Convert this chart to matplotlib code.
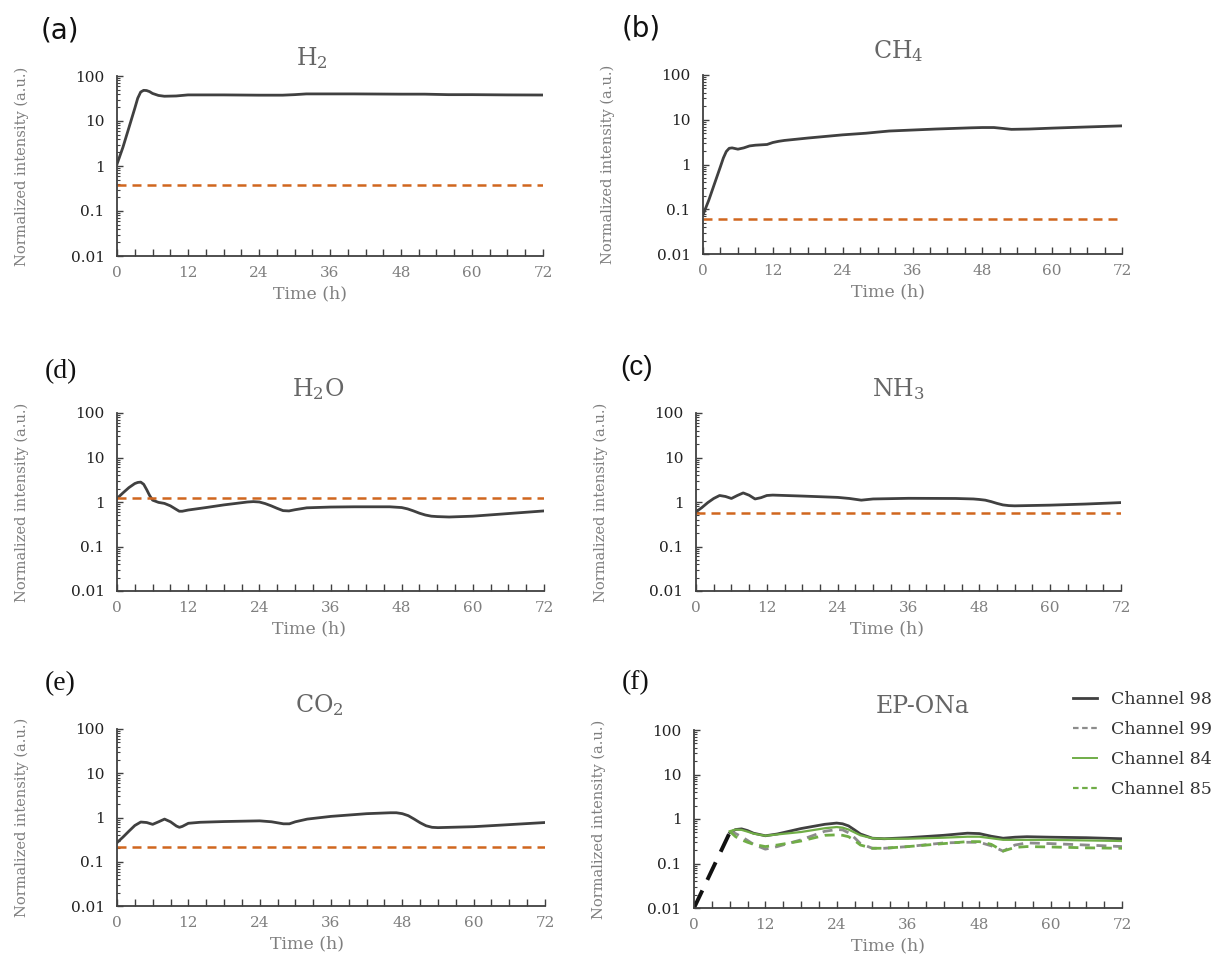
import matplotlib
matplotlib.use("Agg")
import matplotlib.pyplot as plt
from matplotlib.ticker import MultipleLocator, LogLocator, FixedLocator, NullFormatter
from matplotlib.lines import Line2D

plt.rcParams['font.family'] = ['DejaVu Serif']
plt.rcParams['mathtext.fontset'] = 'dejavuserif'

# ---------------- data ----------------
h2_t = [0, 1, 2, 3, 3.5, 4, 4.5, 5, 5.5, 6, 7, 8, 10, 12, 18, 24, 28, 30, 32, 40, 48, 52, 56, 60, 66, 72]
h2_v = [1.1, 2.6, 7.0, 19, 32, 44, 48, 47.5, 45, 41, 37, 35.5, 36, 38, 38, 37.5, 37.5, 38.5, 40, 40, 39.5, 39.5, 38.5, 38.5, 38, 37.8]
h2_ref = 0.38

ch4_t = [0, 1, 2, 3, 3.5, 4, 4.5, 5, 6, 7, 8, 9, 10, 11, 12, 13, 14, 18, 24, 28, 30, 32, 40, 46, 48, 50, 52, 53, 56, 60, 66, 72]
ch4_v = [0.075, 0.16, 0.38, 0.9, 1.4, 1.95, 2.3, 2.35, 2.2, 2.35, 2.6, 2.7, 2.75, 2.8, 3.1, 3.3, 3.45, 3.9, 4.6, 5.0, 5.3, 5.6, 6.2, 6.6, 6.7, 6.7, 6.3, 6.1, 6.2, 6.5, 6.9, 7.3]
ch4_ref = 0.062

h2o_t = [0, 1, 2, 3, 3.5, 4, 4.5, 5, 5.5, 6, 7, 8, 9, 10, 10.5, 11, 12, 15, 18, 22, 23, 24, 25, 26, 27, 28, 29, 30, 32, 36, 40, 46, 48, 49, 50, 51, 52, 53, 54, 56, 60, 66, 72]
h2o_v = [1.2, 1.6, 2.1, 2.6, 2.75, 2.8, 2.5, 1.9, 1.4, 1.1, 0.98, 0.93, 0.82, 0.68, 0.62, 0.62, 0.66, 0.75, 0.86, 1.0, 1.02, 1.0, 0.92, 0.82, 0.72, 0.64, 0.63, 0.67, 0.74, 0.77, 0.78, 0.78, 0.75, 0.7, 0.63, 0.56, 0.51, 0.48, 0.47, 0.46, 0.48, 0.55, 0.63]
h2o_ref = 1.22

nh3_t = [0, 1, 2, 3, 4, 5, 6, 7, 8, 9, 10, 11, 12, 13, 18, 24, 26, 28, 30, 36, 44, 47, 48, 49, 50, 51, 52, 53, 54, 60, 66, 72]
nh3_v = [0.6, 0.75, 0.97, 1.2, 1.4, 1.33, 1.2, 1.4, 1.6, 1.42, 1.17, 1.25, 1.4, 1.43, 1.36, 1.27, 1.2, 1.1, 1.17, 1.21, 1.2, 1.17, 1.14, 1.1, 1.02, 0.93, 0.86, 0.83, 0.82, 0.85, 0.9, 0.97]
nh3_ref = 0.57

co2_t = [0, 1, 2, 3, 4, 5, 6, 7, 8, 9, 10, 10.5, 11, 12, 14, 18, 24, 26, 28, 29, 30, 32, 36, 42, 46, 47, 48, 49, 50, 51, 52, 53, 54, 60, 66, 72]
co2_v = [0.27, 0.36, 0.49, 0.66, 0.79, 0.77, 0.7, 0.8, 0.92, 0.8, 0.64, 0.6, 0.63, 0.74, 0.78, 0.81, 0.84, 0.8, 0.72, 0.72, 0.8, 0.92, 1.06, 1.22, 1.28, 1.28, 1.22, 1.1, 0.92, 0.76, 0.65, 0.6, 0.59, 0.62, 0.69, 0.77]
co2_ref = 0.22

ep_t = [6, 7, 8, 9, 10, 12, 14, 18, 22, 24, 25, 26, 27, 28, 30, 32, 36, 42, 46, 48, 50, 52, 54, 56, 60, 66, 72]
ch98 = [0.49, 0.58, 0.6, 0.55, 0.48, 0.42, 0.46, 0.61, 0.76, 0.81, 0.78, 0.7, 0.57, 0.46, 0.37, 0.36, 0.38, 0.43, 0.48, 0.47, 0.41, 0.37, 0.39, 0.40, 0.39, 0.38, 0.36]
ch99 = [0.53, 0.47, 0.40, 0.33, 0.27, 0.21, 0.24, 0.34, 0.53, 0.58, 0.57, 0.49, 0.38, 0.28, 0.22, 0.22, 0.24, 0.29, 0.30, 0.30, 0.25, 0.19, 0.26, 0.29, 0.28, 0.26, 0.24]
ch84 = [0.53, 0.58, 0.57, 0.52, 0.47, 0.42, 0.45, 0.51, 0.62, 0.66, 0.64, 0.58, 0.5, 0.43, 0.37, 0.36, 0.36, 0.38, 0.40, 0.40, 0.37, 0.34, 0.34, 0.34, 0.34, 0.33, 0.32]
ch85 = [0.53, 0.40, 0.34, 0.30, 0.27, 0.24, 0.26, 0.32, 0.43, 0.44, 0.43, 0.40, 0.33, 0.26, 0.22, 0.22, 0.24, 0.28, 0.31, 0.31, 0.27, 0.19, 0.23, 0.24, 0.235, 0.225, 0.22]
ep_start_t = [0, 6]
ep_start_v = [0.01, 0.49]

x_ticks = [0, 12, 24, 36, 48, 60, 72]
y_ticks = [0.01, 0.1, 1, 10, 100]
y_tick_labels = ['0.01', '0.1', '1', '10', '100']

# ---------------- style ----------------
DARK = '#404040'
ORANGE = '#D0661F'
GREEN = '#70AD47'
GRAY = '#8C8C8C'
LABEL_GRAY = '#7F7F7F'
TITLE_GRAY = '#666666'
DASH = (0, (3.6, 2.4))

fig = plt.figure(figsize=(12.16, 9.56), dpi=100)
W, H = 1216, 956

def make_ax(left, right, top, bottom):
    return fig.add_axes([left / W, 1 - bottom / H, (right - left) / W, (bottom - top) / H])

def style(ax, title, letter, letter_xy, letter_font, title_x, xlabel_x, title_pad=12):
    ax.set_yscale('log')
    ax.set_xlim(0, 72)
    ax.set_ylim(0.01, 100)
    for s in ['top', 'right']:
        ax.spines[s].set_visible(False)
    for s in ['left', 'bottom']:
        ax.spines[s].set_color(DARK)
        ax.spines[s].set_linewidth(1.3)
    ax.xaxis.set_major_locator(FixedLocator(x_ticks))
    ax.xaxis.set_minor_locator(MultipleLocator(3))
    ax.yaxis.set_major_locator(FixedLocator(y_ticks))
    ax.set_yticklabels(y_tick_labels)
    ax.yaxis.set_minor_locator(LogLocator(base=10, subs=range(2, 10), numticks=20))
    ax.yaxis.set_minor_formatter(NullFormatter())
    ax.tick_params(axis='x', which='both', direction='in', length=5, width=1.0, color=DARK,
                   labelsize=11, labelcolor=LABEL_GRAY, pad=7)
    ax.tick_params(axis='y', which='major', direction='in', length=4, width=1.0, color=DARK,
                   labelsize=11, labelcolor='#222222', pad=9)
    ax.tick_params(axis='y', which='minor', direction='in', length=2.5, width=0.8, color=DARK)
    ax.set_xlabel('Time (h)', fontsize=12.5, color=LABEL_GRAY)
    ax.xaxis.set_label_coords(xlabel_x, -0.165)
    ax.set_ylabel('Normalized intensity (a.u.)', fontsize=10.5, color=LABEL_GRAY, labelpad=30)
    ax.set_title(title, fontsize=17, color=TITLE_GRAY, pad=title_pad, x=title_x)
    fig.text(letter_xy[0] / W, 1 - letter_xy[1] / H, letter, fontsize=20,
             family=letter_font, ha='left', va='center', color='#111111')

# (a) H2
ax = make_ax(117, 543, 76, 256)
ax.plot(h2_t, h2_v, color=DARK, lw=2)
ax.axhline(h2_ref, color=ORANGE, lw=1.8, ls=DASH)
style(ax, r'H$_2$', '(a)', (41, 30), 'DejaVu Sans', 0.458, 0.453, title_pad=8)

# (b) CH4
ax = make_ax(703, 1122, 75, 254)
ax.plot(ch4_t, ch4_v, color=DARK, lw=2)
ax.axhline(ch4_ref, color=ORANGE, lw=1.8, ls=DASH)
style(ax, r'CH$_4$', '(b)', (622, 29), 'DejaVu Sans', 0.467, 0.442)

# (d) H2O
ax = make_ax(117, 544, 413, 591)
ax.plot(h2o_t, h2o_v, color=DARK, lw=2)
ax.axhline(h2o_ref, color=ORANGE, lw=1.8, ls=DASH)
style(ax, r'H$_2$O', '(d)', (45, 372), 'Liberation Serif', 0.47, 0.45)

# (c) NH3
ax = make_ax(696, 1121, 413, 591)
ax.plot(nh3_t, nh3_v, color=DARK, lw=2)
ax.axhline(nh3_ref, color=ORANGE, lw=1.8, ls=DASH)
style(ax, r'NH$_3$', '(c)', (620, 368), 'Liberation Sans', 0.476, 0.45)

# (e) CO2
ax = make_ax(117, 545, 729, 906)
ax.plot(co2_t, co2_v, color=DARK, lw=2)
ax.axhline(co2_ref, color=ORANGE, lw=1.8, ls=DASH)
style(ax, r'CO$_2$', '(e)', (45, 684), 'Liberation Serif', 0.472, 0.444)

# (f) EP-ONa
ax = make_ax(694, 1122, 730, 908)
ax.plot(ep_start_t, ep_start_v, color='#111111', lw=2.8, ls=(0, (5, 3)))
ax.plot(ep_t, ch98, color=DARK, lw=2)
ax.plot(ep_t, ch99, color=GRAY, lw=2, ls=DASH)
ax.plot(ep_t, ch84, color=GREEN, lw=1.6)
ax.plot(ep_t, ch85, color=GREEN, lw=2, ls=DASH)
style(ax, 'EP-ONa', '(f)', (622, 683), 'Liberation Serif', 0.535, 0.453)

handles = [Line2D([], [], color=DARK, lw=2),
           Line2D([], [], color=GRAY, lw=1.6, ls=(0, (2.5, 1.6))),
           Line2D([], [], color=GREEN, lw=1.4),
           Line2D([], [], color=GREEN, lw=1.6, ls=(0, (2.5, 1.6)))]
labels = ['Channel 98', 'Channel 99', 'Channel 84', 'Channel 85']
fig.legend(handles, labels, loc='upper left', bbox_to_anchor=(1066 / W, 1 - 684 / H),
           frameon=False, fontsize=12.5, handlelength=1.4, handletextpad=0.8,
           labelspacing=0.75, labelcolor='#333333', borderaxespad=0)

fig.savefig('out.png', dpi=100, facecolor='white')
